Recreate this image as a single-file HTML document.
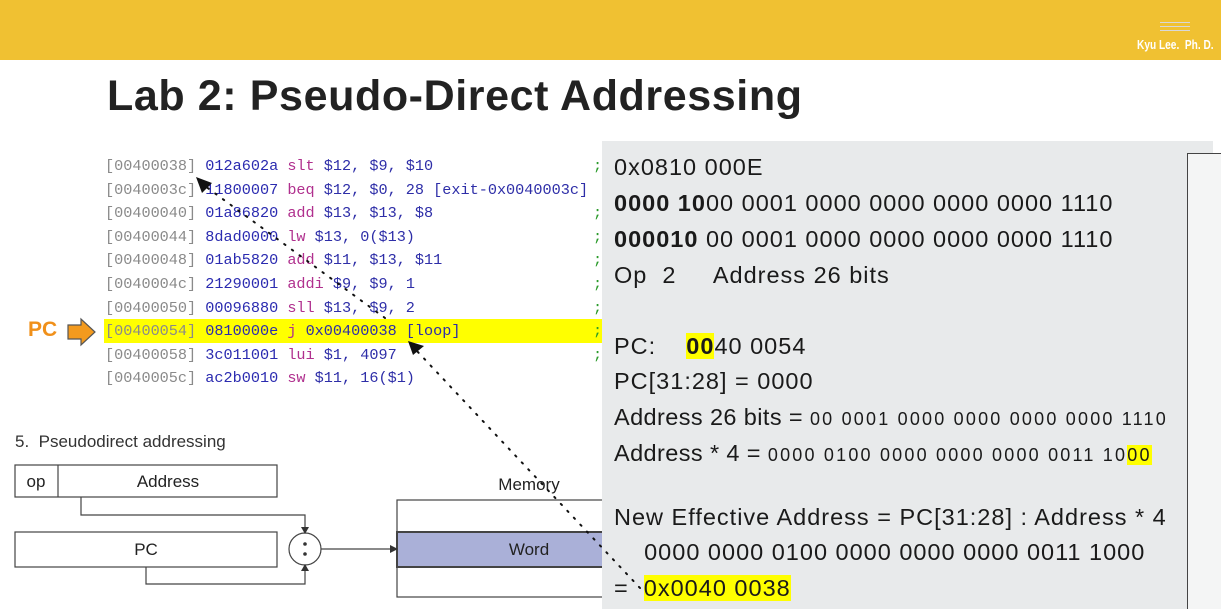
<!DOCTYPE html>
<html><head><meta charset="utf-8"><style>
*{margin:0;padding:0;box-sizing:border-box}
body{width:1221px;height:609px;overflow:hidden;background:#fff;position:relative;font-family:"Liberation Sans",Arial,sans-serif}
.hdr{position:absolute;left:0;top:0;width:1221px;height:60px;background:#f0c132}
.abs{position:absolute;white-space:pre}
.code{font-family:"Liberation Mono",monospace;font-size:15.2px;line-height:23.6px}
.a{color:#8a8a8a}.h{color:#2b2bb0}.m{color:#b0308e}.o{color:#2e2ea8}.s{color:#2a9a2a}
.panel{position:absolute;left:602px;top:141px;width:611px;height:468px;background:#e8eaeb}
.t{position:absolute;left:614px;font-size:23.5px;color:#1a1a1a;white-space:pre;line-height:27px;letter-spacing:1px}
.sm{font-size:18px;letter-spacing:2.2px}
.y{background:#ffff00}
</style></head><body>
<div class="hdr"></div>
<div class="abs" style="left:1160px;top:22px;width:30px;height:1px;background:#d8d8d8"></div>
<div class="abs" style="left:1160px;top:26px;width:30px;height:1px;background:#d8d8d8"></div>
<div class="abs" style="left:1160px;top:30px;width:30px;height:1px;background:#d8d8d8"></div>
<div class="abs" style="left:1137px;top:37px;color:#fff;font-weight:bold;font-size:13px;transform:scaleX(0.78);transform-origin:0 0">Kyu Lee.  Ph. D.</div>
<div class="abs" style="left:107px;top:72px;font-size:43px;font-weight:bold;color:#222;letter-spacing:0.6px">Lab 2: Pseudo-Direct Addressing</div>

<div class="abs" style="left:104px;top:319px;width:498px;height:24px;background:#ffff00"></div>
<div class="abs code" style="left:105px;top:155px"><span class="a">[00400038]</span> <span class="h">012a602a</span> <span class="m">slt</span> <span class="o">$12, $9, $10</span>
<span class="a">[0040003c]</span> <span class="h">11800007</span> <span class="m">beq</span> <span class="o">$12, $0, 28 [exit-0x0040003c]</span>
<span class="a">[00400040]</span> <span class="h">01a86820</span> <span class="m">add</span> <span class="o">$13, $13, $8</span>
<span class="a">[00400044]</span> <span class="h">8dad0000</span> <span class="m">lw</span> <span class="o">$13, 0($13)</span>
<span class="a">[00400048]</span> <span class="h">01ab5820</span> <span class="m">add</span> <span class="o">$11, $13, $11</span>
<span class="a">[0040004c]</span> <span class="h">21290001</span> <span class="m">addi</span> <span class="o">$9, $9, 1</span>
<span class="a">[00400050]</span> <span class="h">00096880</span> <span class="m">sll</span> <span class="o">$13, $9, 2</span>
<span class="a">[00400054]</span> <span class="h">0810000e</span> <span class="m">j</span> <span class="o">0x00400038 [loop]</span>
<span class="a">[00400058]</span> <span class="h">3c011001</span> <span class="m">lui</span> <span class="o">$1, 4097</span>
<span class="a">[0040005c]</span> <span class="h">ac2b0010</span> <span class="m">sw</span> <span class="o">$11, 16($1)</span></div>
<div class="abs code s" style="left:593px;top:155px">;

;
;
;
;
;
;
;</div>
<div class="abs" style="left:28px;top:318px;color:#f0901a;font-weight:bold;font-size:21px">PC</div>
<svg class="abs" style="left:66px;top:317px" width="32" height="30"><polygon points="2,8 15,8 15,2 29,15 15,28 15,22 2,22" fill="#f39a1e" stroke="#555" stroke-width="1.2"/></svg>

<div class="abs" style="left:15px;top:432px;font-size:17px;color:#333">5.  Pseudodirect addressing</div>
<svg class="abs" style="left:0;top:455px" width="610" height="154">
<g stroke="#444" stroke-width="1.2" fill="none">
<rect x="15" y="10" width="262" height="32" fill="#fff"/>
<line x1="58" y1="10" x2="58" y2="42"/>
<rect x="15" y="77" width="262" height="35" fill="#fff"/>
<polyline points="81,42 81,60 305,60 305,74"/>
<polyline points="146,112 146,129 305,129 305,114"/>
<circle cx="305" cy="94" r="16" fill="#fff"/>
<line x1="321" y1="94" x2="390" y2="94"/>
<rect x="397" y="45" width="220" height="97" fill="#fff"/>
<rect x="397" y="77" width="220" height="35" fill="#aab0d8" stroke-width="2"/>
</g>
<g fill="#333"><polygon points="301,72 309,72 305,79"/><polygon points="301,116 309,116 305,109"/><polygon points="390,90 390,98 398,94"/>
<circle cx="305" cy="89" r="1.8"/><circle cx="305" cy="99" r="1.8"/></g>
<g font-family="Liberation Sans,Arial,sans-serif" font-size="17" fill="#222" text-anchor="middle">
<text x="36" y="32">op</text><text x="168" y="32">Address</text><text x="146" y="100">PC</text>
<text x="529" y="100">Word</text><text x="529" y="35">Memory</text></g>
</svg>

<div class="panel"></div>
<div class="abs" style="left:1187px;top:153px;width:34px;height:456px;border-left:1.5px solid #444;border-top:1.5px solid #444;background:#f4f5f5"></div>
<div class="t" style="top:154px">0x0810 000E</div>
<div class="t" style="top:190px"><b>0000 10</b>00 0001 0000 0000 0000 0000 1110</div>
<div class="t" style="top:226px"><b>000010</b> 00 0001 0000 0000 0000 0000 1110</div>
<div class="t" style="top:262px">Op  2     Address 26 bits</div>
<div class="t" style="top:333px">PC:    <b class="y">00</b>40 0054</div>
<div class="t" style="top:368px">PC[31:28] = 0000</div>
<div class="t" style="top:404px;letter-spacing:0.4px">Address 26 bits = <span class="sm">00 0001 0000 0000 0000 0000 1110</span></div>
<div class="t" style="top:440px;letter-spacing:0.4px">Address * 4 = <span class="sm">0000 0100 0000 0000 0000 0011 10<span class="y">00</span></span></div>
<div class="t" style="top:504px">New Effective Address = PC[31:28] : Address * 4</div>
<div class="t" style="top:539px">    0000 0000 0100 0000 0000 0000 0011 1000</div>
<div class="t" style="top:575px">=  <span class="y">0x0040 0038</span></div>

<svg class="abs" style="left:0;top:0" width="1221" height="609">
<g stroke="#111" stroke-width="2" stroke-dasharray="1.5,8" stroke-linecap="round" fill="none">
<line x1="640" y1="588" x2="416" y2="350"/>
<line x1="385" y1="318" x2="205" y2="186"/>
</g>
<polygon points="408,341 424,346 413,355" fill="#111"/>
<polygon points="196,177 212,183 202,193" fill="#111"/>
</svg>
</body></html>
